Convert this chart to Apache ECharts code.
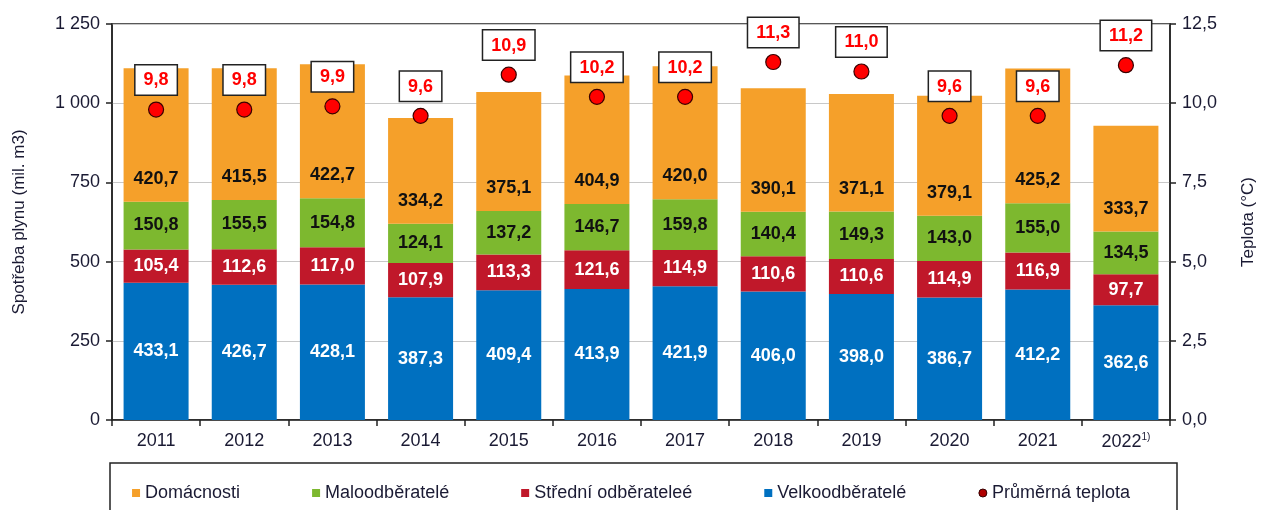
<!DOCTYPE html>
<html><head><meta charset="utf-8">
<script src="https://cdn.jsdelivr.net/npm/echarts@6/dist/echarts.min.js"></script>
<style>html,body{margin:0;padding:0;background:#fff}#c{width:1262px;height:510px}</style>
</head><body><div id="c"></div>
<script>
const categories = ['2011','2012','2013','2014','2015','2016','2017','2018','2019','2020','2021','2022'];
const velko = [433.1,426.7,428.1,387.3,409.4,413.9,421.9,406.0,398.0,386.7,412.2,362.6];
const stredni = [105.4,112.6,117.0,107.9,113.3,121.6,114.9,110.6,110.6,114.9,116.9,97.7];
const malo = [150.8,155.5,154.8,124.1,137.2,146.7,159.8,140.4,149.3,143.0,155.0,134.5];
const domacnosti = [420.7,415.5,422.7,334.2,375.1,404.9,420.0,390.1,371.1,379.1,425.2,333.7];
const teplota = [9.8,9.8,9.9,9.6,10.9,10.2,10.2,11.3,11.0,9.6,9.6,11.2];
const leftTicks = ['0','250','500','750','1 000','1 250'];

const fmt = v => v.toFixed(1).replace('.', ',');
const F = 'Liberation Sans, Arial, sans-serif';
const TXT = '#1a1a33';
const chart = echarts.init(document.getElementById('c'));
const barLabel = (color, pos, dist) => ({show:true, position:pos, distance:dist, color:color, fontWeight:'bold', fontSize:18, fontFamily:F, formatter:p=>fmt(p.value)});
chart.setOption({
  animation:false,
  grid:{left:112, right:92, top:24, bottom:90, show:true, borderColor:'#222', borderWidth:1.5, containLabel:false, outerBoundsMode:'none'},
  legend:{top:479, left:'center', itemWidth:8, itemHeight:8, itemGap:72, icon:'rect',
    textStyle:{fontFamily:F, fontSize:18, color:TXT},
    data:[{name:'Domácnosti'},{name:'Maloodběratelé'},{name:'Střední odběrateleé'},{name:'Velkoodběratelé'},{name:'Průměrná teplota', icon:'circle', itemStyle:{color:'#b00000', borderColor:'#330000', borderWidth:1, opacity:1}}]},
  graphic:[{type:'rect', shape:{x:110, y:463, width:1067, height:60}, style:{fill:'none', stroke:'#222', lineWidth:1.5}}],
  xAxis:{type:'category', data:categories,
    axisLine:{lineStyle:{color:'#222', width:1.5}},
    axisTick:{show:true, interval:0, length:6, lineStyle:{color:'#222', width:1.5}},
    axisLabel:{interval:0, fontFamily:F, fontSize:18, color:TXT, margin:12,
      formatter:v=> v==='2022' ? v+'{s|1)}' : v,
      rich:{s:{fontSize:10, verticalAlign:'top', padding:[0,0,10,0], color:TXT, fontFamily:F}}}},
  yAxis:[
    {type:'value', min:0, max:1250, interval:250, name:'Spotřeba plynu (mil. m3)', nameLocation:'middle', nameGap:84, nameRotate:90,
     nameTextStyle:{fontFamily:F, fontSize:17, color:TXT},
     axisLine:{show:true, lineStyle:{color:'#222', width:1.5}},
     axisTick:{show:true, length:6, lineStyle:{color:'#222', width:1.5}},
     splitLine:{lineStyle:{color:'#c8c8c8', width:1.2}},
     axisLabel:{fontFamily:F, fontSize:18, color:TXT, margin:12, formatter:v=>leftTicks[Math.round(v/250)]}},
    {type:'value', min:0, max:12.5, interval:2.5, name:'Teplota (°C)', nameLocation:'middle', nameGap:70, nameRotate:90,
     nameTextStyle:{fontFamily:F, fontSize:17, color:TXT},
     axisLine:{show:true, lineStyle:{color:'#222', width:1.5}},
     axisTick:{show:true, length:6, lineStyle:{color:'#222', width:1.5}},
     splitLine:{show:false},
     axisLabel:{fontFamily:F, fontSize:18, color:TXT, margin:12, formatter:v=>v.toFixed(1).replace('.',',')}}
  ],
  series:[
    {name:'Velkoodběratelé', type:'bar', stack:'a', barWidth:65, data:velko, itemStyle:{color:'#0070C0'}, label:barLabel('#ffffff','inside',0)},
    {name:'Střední odběrateleé', type:'bar', stack:'a', data:stredni, itemStyle:{color:'#C0182A'}, label:barLabel('#ffffff','inside',0)},
    {name:'Maloodběratelé', type:'bar', stack:'a', data:malo, itemStyle:{color:'#7DB82F'}, label:barLabel('#111111','inside',0)},
    {name:'Domácnosti', type:'bar', stack:'a', data:domacnosti, itemStyle:{color:'#F5A02A'}, label:barLabel('#111111','insideBottom',14)},
    {name:'Průměrná teplota', type:'scatter', yAxisIndex:1, data:teplota, symbolSize:15, z:10,
     itemStyle:{color:'#FF0000', borderColor:'#3a0000', borderWidth:1.2, opacity:1},
     label:{show:true, position:'top', distance:7, formatter:p=>fmt(p.value), color:'#FF0000', fontWeight:'bold', fontSize:18, fontFamily:F, opacity:1,
       backgroundColor:'#ffffff', borderColor:'#222', borderWidth:1.5, padding:[6,8,5,8]}}
  ]
});
</script></body></html>
